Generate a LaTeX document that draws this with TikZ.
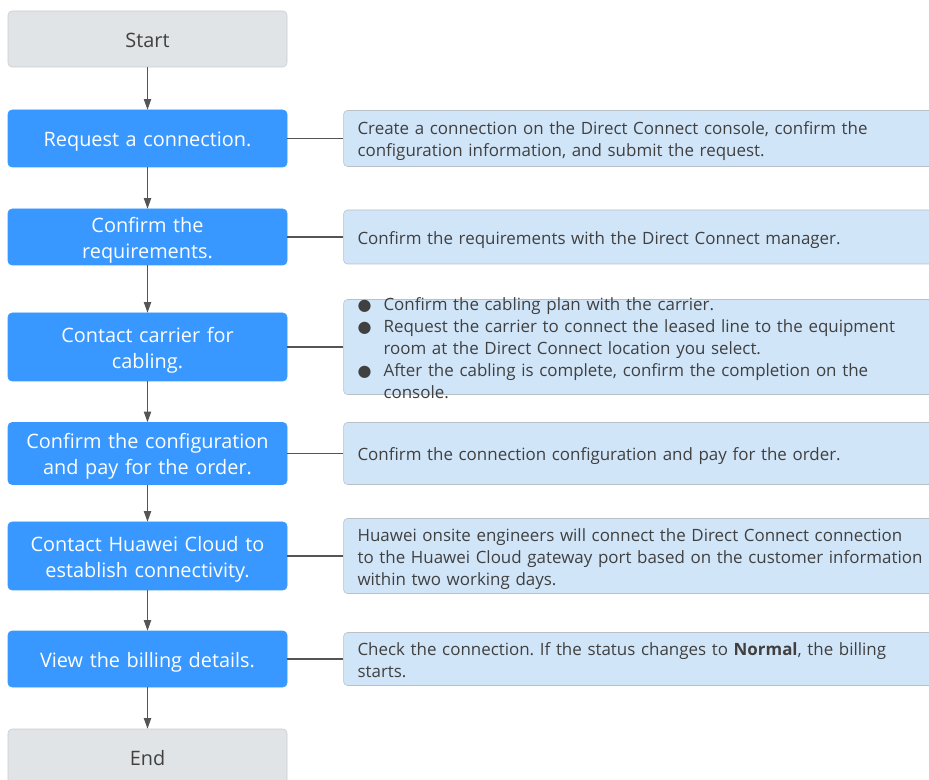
\documentclass[tikz,border=0pt]{standalone}
\usepackage{fontspec}
\setmainfont{Open Sans}
\newfontfamily\dotfont{DejaVu Sans}
\usetikzlibrary{positioning,arrows.meta}
\definecolor{stepblue}{RGB}{56,152,255}
\definecolor{termgray}{RGB}{225,228,231}
\definecolor{termline}{RGB}{200,204,208}
\definecolor{noteblue}{RGB}{209,229,248}
\definecolor{noteline}{RGB}{186,192,199}
\definecolor{linegray}{RGB}{85,85,85}
\definecolor{textgray}{RGB}{64,64,64}
\newcommand{\dotitem}{\makebox[19.5pt][l]{\dotfont\fontsize{12}{12}\selectfont ●}}
\newcommand{\dotgap}{\hspace*{19.5pt}}
\newcommand{\firstrut}{\rule[-0.24em]{0pt}{1.31em}}
\newcommand{\lastrut}{\rule[-0.24em]{0pt}{0.24em}}
\frenchspacing
\begin{document}
\begin{tikzpicture}[x=0.75pt,y=-0.75pt,stepbox/.style={shape=rectangle,rounded corners=3pt,fill=stepblue,draw=stepblue,text=white,text width=209.25pt,inner xsep=0pt,inner ysep=0pt,align=center,font=\fontsize{14.9}{19.5}\selectfont,execute at begin node=\firstrut,execute at end node=\lastrut},termbox/.style={stepbox,fill=termgray,draw=termline,text=textgray},notebox/.style={shape=rectangle,rounded corners=3pt,fill=noteblue,draw=noteline,text=textgray,text width=445pt,inner xsep=10.5pt,inner ysep=0pt,align=left,font=\fontsize{12.7}{16.5}\selectfont,execute at begin node=\firstrut,execute at end node=\lastrut},flow/.style={draw=linegray,thick,-{Triangle[width=5.5pt,length=8pt]}},link/.style={draw=linegray,thick}]
\def\bx{147.5};
\def\gap{42pt};

\useasboundingbox (0,0) rectangle (929,780);

\node[termbox,minimum height=42pt] (start) at (\bx,39) {Start};

\node[stepbox,minimum height=42.75pt] (req) at (\bx,138.5) {Request a connection.};
\draw[flow] (start) -- (req);
\node[notebox,minimum height=42pt,right=\gap of req] (reqnote) {Create a connection on the Direct Connect console, confirm the\\configuration information, and submit the request.};
\draw[link] (req) -- (reqnote);

\node[stepbox,minimum height=42pt] (reqs) at (\bx,237) {Confirm the\\requirements.};
\draw[flow] (req) -- (reqs);
\node[notebox,minimum height=40.5pt,right=\gap of reqs] (reqsnote) {Confirm the requirements with the Direct Connect manager.};
\draw[link] (reqs) -- (reqsnote);

\node[stepbox,minimum height=51pt] (carrier) at (\bx,347) {Contact carrier for\\cabling.};
\draw[flow] (reqs) -- (carrier);
\node[notebox,text height=8pt,text depth=63.25pt,right=\gap of carrier] (carriernote) {\dotitem Confirm the cabling plan with the carrier.\\\dotitem Request the carrier to connect the leased line to the equipment\\\dotgap room at the Direct Connect location you select.\\\dotitem After the cabling is complete, confirm the completion on the\\\dotgap console.};
\draw[link] (carrier) -- (carriernote);

\node[stepbox,minimum height=46.5pt] (config) at (\bx,453.5) {Confirm the configuration\\and pay for the order.};
\draw[flow] (carrier) -- (config);
\node[notebox,minimum height=46.5pt,right=\gap of config] (confignote) {Confirm the connection configuration and pay for the order.};
\draw[link] (config) -- (confignote);

\node[stepbox,minimum height=51pt] (huawei) at (\bx,556) {Contact Huawei Cloud to\\establish connectivity.};
\draw[flow] (config) -- (huawei);
\node[notebox,minimum height=56.25pt,right=\gap of huawei] (huaweinote) {Huawei onsite engineers will connect the Direct Connect connection\\to the Huawei Cloud gateway port based on the customer information\\within two working days.};
\draw[link] (huawei) -- (huaweinote);

\node[stepbox,minimum height=42pt] (billing) at (\bx,659) {View the billing details.};
\draw[flow] (huawei) -- (billing);
\node[notebox,minimum height=39.75pt,right=\gap of billing] (billingnote) {Check the connection. If the status changes to \textbf{Normal}, the billing\\starts.};
\draw[link] (billing) -- (billingnote);

\node[termbox,minimum height=42pt] (end) at (\bx,757) {End};
\draw[flow] (billing) -- (end);
\end{tikzpicture}
\end{document}
